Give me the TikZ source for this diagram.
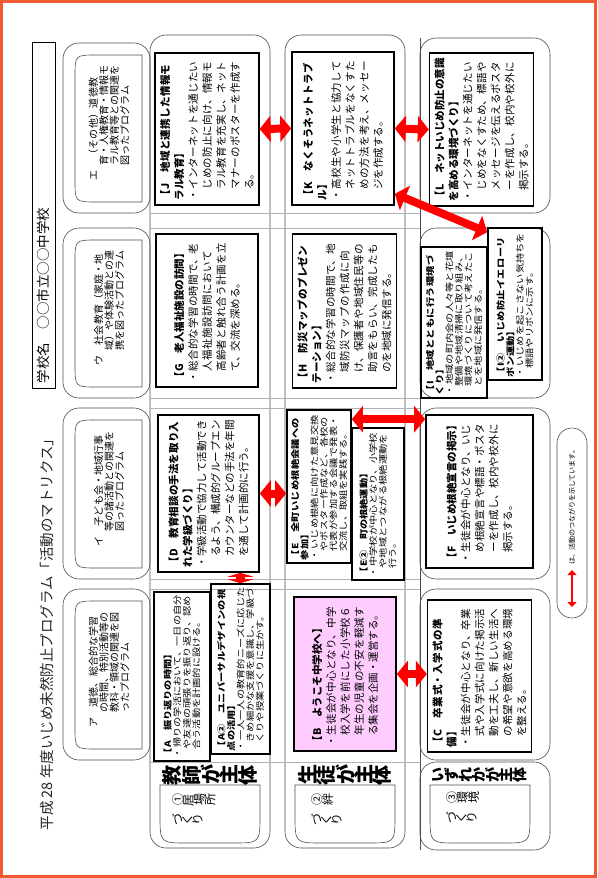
\documentclass[tikz,border=0pt]{standalone}
\usepackage{fontspec}
\usepackage{graphicx}
\setmainfont{Noto Sans CJK JP}
\newfontfamily\widejp{Noto Sans CJK JP}[FakeStretch=1.2]
\usetikzlibrary{arrows.meta}
\XeTeXlinebreaklocale "ja"
\XeTeXlinebreakskip=0pt plus 1pt
\setlength{\parindent}{0pt}

\definecolor{framered}{RGB}{240,90,50}
\definecolor{linkred}{RGB}{255,0,0}
\definecolor{cellpink}{RGB}{255,204,255}

% heading and item lines inside the cells
\newcommand{\hd}[1]{{\bfseries #1}\par}
\newcommand{\itm}[1]{\hangindent=1em\hangafter=1 ・#1\par}
\newcommand{\prog}[2]{\hangindent=1.5em\hangafter=1 #1　#2\par}
% upright text on the turned page: every glyph is turned on its own
\def\sidechars#1{\sidecharsA#1\relax}
\def\sidecharsA#1{\ifx#1\relax\else\rotatebox[origin=c]{90}{#1}\expandafter\sidecharsA\fi}

\tikzset{
  cellbox/.style={draw, line width=1.6pt, rotate=90, inner sep=5pt, align=left, font=\fontsize{10.5}{14}\selectfont},
  smallbox/.style={cellbox, inner sep=3pt, font=\widejp\fontsize{8.5}{9.6}\selectfont},
  hdrtext/.style={rotate=90, text width=115pt, align=left, inner sep=0pt, font=\fontsize{10}{10.5}\selectfont},
  mainlbl/.style={font=\bfseries\fontsize{20}{20}\selectfont, inner sep=0pt},
  tablbl/.style={align=left, inner sep=0pt, anchor=west, font=\fontsize{12}{20}\selectfont},
  outline/.style={black!70, line width=0.6pt},
  gridline/.style={gray!60, line width=0.6pt},
  biarrow/.style={linkred, line width=8pt, {Triangle[length=11pt,width=26pt]}-{Triangle[length=11pt,width=26pt]}},
  smallbiarrow/.style={linkred, line width=9pt, {Triangle[length=4pt,width=26pt]}-{Triangle[length=4pt,width=26pt]}},
  legendarrow/.style={linkred, line width=2.5pt, {Triangle[length=5pt,width=9pt]}-{Triangle[length=5pt,width=9pt]}}
}

\begin{document}
\begin{tikzpicture}[x=1pt, y=-1pt]
\useasboundingbox (0,0) rectangle (597,878);
\draw[framered, line width=3pt] (1.5,1.5) rectangle (595.5,876.5);

% title and school name
\node[rotate=90, anchor=west, font=\fontsize{14.5}{16}\selectfont, text=black!85] (title) at (47,834) {平成 28 年度いじめ未然防止プログラム「活動のマトリクス」};
\node[draw, rotate=90, text width=336pt, minimum height=23pt, inner sep=5pt, align=left, font=\fontsize{13.5}{14}\selectfont] (school) at (43.5,215) {学校名　○○市立○○中学校};

% program headers
\foreach \ya/\yb in {43/213, 228/398, 408/579, 589/760}
  \draw[outline, rounded corners=16pt] (63,\ya) rectangle (150,\yb);
\foreach \ya/\yb in {55/202, 240/387, 420/568, 601/749}
  \draw[outline] (142,\ya) -- (97,\ya) .. controls (75,\ya) .. (75,\ya+22) -- (75,\yb-22) .. controls (75,\yb) .. (97,\yb) -- (142,\yb) -- cycle;

% grid of the three rows
\foreach \xa/\xb in {150/270, 285/405}
  \draw[outline, rounded corners=16pt] (\xa,35) rectangle (\xb,848);
\foreach \ya/\yb in {38/213, 228/398, 408/579, 589/760, 762/850}
  \draw[outline, rounded corners=16pt] (420,\ya) rectangle (550,\yb);
\draw[outline] (420,38) -- (420,850);
\foreach \y in {213, 228, 398, 408, 579, 589, 762}
  \draw[gridline] (150,\y) -- (420,\y);

% row headers
\foreach \x in {160, 295, 430}
  \draw[outline] (\x,785) -- (\x+100,785) -- (\x+100,815) .. controls (\x+100,843) .. (\x+72,843) -- (\x+28,843) .. controls (\x,843) .. (\x,815) -- cycle;
\node[mainlbl] (who1) at (210,775) {\sidechars{教師が主体}};
\node[mainlbl] (who2) at (345,775) {\sidechars{生徒が主体}};
\node[mainlbl, font=\bfseries\fontsize{15}{15}\selectfont] (who3) at (480,775) {\sidechars{いずれかが主体}};
\node[tablbl] (aim1) at (172,812) {\sidechars{①　居場所}\\\sidechars{　　づくり}};
\node[tablbl] (aim2) at (311,812) {\sidechars{②　絆}\\\sidechars{　　づくり}};
\node[tablbl] (aim3) at (446,810) {\sidechars{③　環境}\\\sidechars{　　づくり}};

\node[hdrtext] (progE) at (109,123) {\prog{エ}{（その他）道徳教育・人権教育・情報モラル教育等との関連を図ったプログラム}};
\node[hdrtext] (progU) at (109,308) {\prog{ウ}{社会教育（家庭・地域）や体験活動との連携を図ったプログラム}};
\node[hdrtext] (progI) at (109,489) {\prog{イ}{子ども会・地域行事等の諸活動との関連を図ったプログラム}};
\node[hdrtext] (progA) at (109,670) {\prog{ア}{道徳、総合的な学習の時間、特別活動等の教科・領域の関連を図ったプログラム}};

% activities
\node[cellbox, text width=142pt, minimum height=102pt] (J) at (207,129) {\hd{【J　地域と連携した情報モラル教育】}\itm{インターネットを通じたいじめの防止に向け、情報モラル教育を充実し、ネットマナーのポスターを作成する。}};
\node[cellbox, text width=143pt, minimum height=102pt] (G) at (207,310.5) {\hd{【G　老人福祉施設の訪問】}\itm{総合的な学習の時間で、老人福祉施設訪問において高齢者と触れ合う計画を立て、交流を深める。}};
\node[cellbox, text width=147pt, minimum height=101pt] (D) at (208.5,493.5) {\hd{【D　教育相談の手法を取り入れた学級づくり】}\itm{学級活動で協力して活動できるよう、構成的グループエンカウンターなどの手法を年間を通して計画的に行う。}};
\node[smallbox, text width=163pt, minimum height=56pt] (A) at (182,676.5) {\hd{【A　振り返りの時間】}\itm{帰りの学活において、一日の自分や友達の頑張りを振り返り、認め合う活動を計画的に設ける。}};
\node[smallbox, text width=164pt, minimum height=59pt] (A2) at (240.5,669) {\hd{【A②　ユニバーサルデザインの視点の活用】}\itm{一人一人の教育的ニーズに応じたきめ細かな支援を意識し、学級づくりや授業づくりに生かす。}};

\node[cellbox, text width=143pt, minimum height=102pt] (K) at (343,128.5) {\hd{【K　なくそうネットトラブル】}\itm{高校生や小学生と協力してネットトラブルをなくすための方法を考え、メッセージを作成する。}};
\node[cellbox, text width=144pt, minimum height=103pt] (H) at (344.5,311) {\hd{【H　防災マップのプレゼンテーション】}\itm{総合的な学習の時間で、地域防災マップの作成に向け、保護者や地域住民等の助言をもらい、完成したものを地域に発信する。}};
\node[smallbox, text width=147pt, minimum height=64pt] (E) at (319,486.5) {\hd{【E　全町いじめ根絶会議への参加】}\itm{いじめ根絶に向けた意見交換やポスター作成など、各校の代表が参加する会議で発表・交流し、取組を実践する。}};
\node[smallbox, text width=146pt, minimum height=52pt] (E2) at (378,504) {\hd{【E②　町の根絶運動】}\itm{中学校が中心となり、小学校や地域とつながる根絶運動を行う。}};
\node[cellbox, fill=cellpink, text width=144pt, minimum height=102pt] (B) at (345,674) {\hd{【B　ようこそ中学校へ】}\itm{生徒会が中心となり、中学校入学を前にした小学校６年生の児童の不安を軽減する集会を企画・運営する。}};

\node[cellbox, text width=143pt, minimum height=101pt] (L) at (481.5,129.5) {\hd{【L　ネットいじめ防止の意識を高める環境づくり】}\itm{インターネットを通じたいじめをなくすため、標語やメッセージを伝えるポスターを作成し、校内や校外に掲示する。}};
\node[smallbox, text width=145pt, minimum height=66pt] (I) at (454,322.5) {\hd{【I　地域とともに行う環境づくり】}\itm{地域の町内会の人々等と花壇整備や地域清掃に取り組み、環境づくりについて考えたことを地域に発信する。}};
\node[smallbox, text width=146pt, minimum height=54pt] (I2) at (515,304) {\hd{【I②　いじめ防止イエローリボン運動】}\itm{いじめを起こさない気持ちを標語やリボンに示す。}};
\node[cellbox, text width=143pt, minimum height=107pt] (F) at (479.5,491.5) {\hd{【F　いじめ根絶宣言の掲示】}\itm{生徒会が中心となり、いじめ根絶宣言や標語・ポスターを作成し、校内や校外に掲示する。}};
\node[cellbox, text width=142pt, minimum height=101pt] (C) at (479.5,676) {\hd{【C　卒業式・入学式の準備】}\itm{生徒会が中心となり、卒業式や入学式に向けた掲示活動を工夫し、新しい生活への希望や意欲を高める環境を整える。}};

% links between activities
\coordinate (Eout) at ([yshift=-10pt]E.south east);
\draw[biarrow] (J.south) -- (K.north);
\draw[biarrow] (K.south) -- (L.north);
\draw[biarrow] ([yshift=12pt]K.south west) -- ([yshift=-5pt]I2.north east);
\draw[smallbiarrow] (A2.east) -- (A2.east |- D.west);
\draw[biarrow] (D.south) -- (D.south -| E.north);
\draw[biarrow] (Eout) -- (Eout -| F.north);
\draw[biarrow] (B.south) -- (B.south -| C.north);

% legend
\node[draw, outline, rounded corners=15pt, rotate=90, minimum width=190pt, minimum height=30pt] (legend) at (572,523) {};
\coordinate (legtop) at (572,570);
\coordinate (legbot) at (572,607);
\draw[legendarrow] (legtop) -- (legbot);
\node[rotate=90, anchor=west, inner sep=0pt, font=\fontsize{7}{8}\selectfont] (legtext) at (572,565) {は、活動のつながりを示しています。};
\end{tikzpicture}
\end{document}
